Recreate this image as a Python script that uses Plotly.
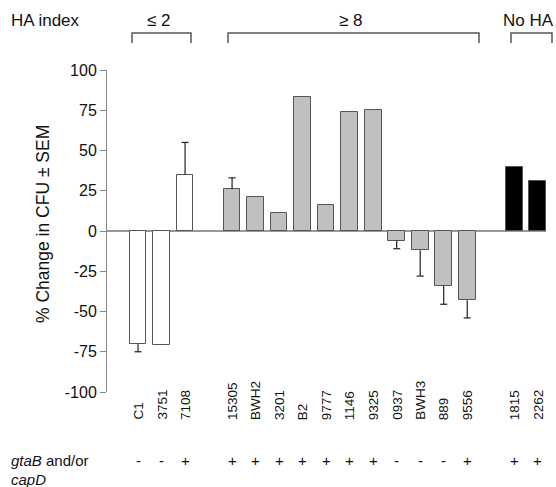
import plotly.graph_objects as go

# ---- data ----
strains = ["C1", "3751", "7108", "15305", "BWH2", "3201", "B2", "9777", "1146",
           "9325", "0937", "BWH3", "889", "9556", "1815", "2262"]
pct_change = [-70, -71, 35, 26, 21, 11, 83, 16, 74, 75, -6, -12, -34, -43, 40, 31]
sem = [5, 0, 20, 7, 0, 0, 0, 0, 0, 0, 5, 16, 11.5, 11, 0, 0]
gtab_capd = ["-", "-", "+", "+", "+", "+", "+", "+", "+", "+", "-", "-", "-", "+", "+", "+"]
group_names = ["\u2264 2", "\u2265 8", "No HA"]
group_sizes = [3, 11, 2]
group_colors = ["#ffffff", "#c0c0c0", "#000000"]
y_ticks = [-100, -75, -50, -25, 0, 25, 50, 75, 100]

FONT = "Liberation Sans, Arial, sans-serif"
W, H = 556, 487
L, R, T, B = 107, 10, 70, 95
PW, PH = W - L - R, H - T - B
CAP = 0.15  # half cap width in slot units


def px_x(px):
    return (px - L) / PW


def px_y(py):
    return (H - B - py) / PH


# positions with one empty slot between groups
xpos, colors = [], []
slot = 0
for gi, n in enumerate(group_sizes):
    for _ in range(n):
        xpos.append(slot)
        colors.append(group_colors[gi])
        slot += 1
    slot += 1

fig = go.Figure()
fig.add_trace(go.Bar(
    x=xpos, y=pct_change, width=0.71,
    marker=dict(color=colors, line=dict(color="#555555", width=1)),
    showlegend=False, hoverinfo="skip",
))

# one-sided error bars (away from zero)
ex, ey = [], []
for x, v, s in zip(xpos, pct_change, sem):
    if s <= 0:
        continue
    end = v + s if v >= 0 else v - s
    ex += [x, x, None, x - CAP, x + CAP, None]
    ey += [v, end, None, end, end, None]
fig.add_trace(go.Scatter(x=ex, y=ey, mode="lines", line=dict(color="#222222", width=1.2),
                         showlegend=False, hoverinfo="skip"))

ann = []
# strain labels
for x, s in zip(xpos, strains):
    ann.append(dict(x=x, xref="x", y=px_y(422), yref="paper", text=s, textangle=-90,
                    xanchor="center", yanchor="bottom", showarrow=False,
                    font=dict(family=FONT, size=13.5, color="#111")))
# +/- row
for x, s in zip(xpos, gtab_capd):
    ann.append(dict(x=x, xref="x", y=px_y(461), yref="paper", text=s,
                    xanchor="center", yanchor="middle", showarrow=False,
                    font=dict(family=FONT, size=15, color="#111")))
ann.append(dict(x=px_x(9), xref="paper", y=px_y(460), yref="paper",
                text="<i>gtaB</i> and/or", xanchor="left", yanchor="middle",
                showarrow=False, font=dict(family=FONT, size=15, color="#111")))
ann.append(dict(x=px_x(9), xref="paper", y=px_y(479), yref="paper",
                text="<i>capD</i>", xanchor="left", yanchor="middle",
                showarrow=False, font=dict(family=FONT, size=15, color="#111")))
# header
ann.append(dict(x=px_x(9), xref="paper", y=px_y(20), yref="paper", text="HA index",
                xanchor="left", yanchor="middle", showarrow=False,
                font=dict(family=FONT, size=17, color="#111")))
brackets = [(132, 191), (228, 479), (511, 552)]
for name, (a, b) in zip(group_names, brackets):
    ann.append(dict(x=px_x((a + b) / 2 - 3), xref="paper", y=px_y(20), yref="paper",
                    text=name, xanchor="center", yanchor="middle", showarrow=False,
                    font=dict(family=FONT, size=17, color="#111")))
shapes = []
for a, b in brackets:
    shapes.append(dict(type="path", xref="paper", yref="paper",
                       path=f"M {px_x(a)},{px_y(43)} L {px_x(a)},{px_y(33)} "
                            f"L {px_x(b)},{px_y(33)} L {px_x(b)},{px_y(43)}",
                       line=dict(color="#555555", width=1.5)))
# y title
ann.append(dict(x=px_x(43), xref="paper", y=px_y(224), yref="paper",
                text="% Change in CFU \u00b1 SEM", textangle=-90,
                xanchor="center", yanchor="middle", showarrow=False,
                font=dict(family=FONT, size=17.5, color="#111")))

fig.update_layout(
    width=W, height=H, margin=dict(l=L, r=R, t=T, b=B),
    plot_bgcolor="white", paper_bgcolor="white",
    annotations=ann, shapes=shapes, bargap=0,
)
fig.update_xaxes(range=[-1.32, 17.35], showticklabels=False, showgrid=False,
                 zeroline=False, showline=False, ticks="")
fig.update_yaxes(range=[-100, 100], tickvals=y_ticks, ticktext=[str(v) for v in y_ticks],
                 showgrid=False,
                 zeroline=True, zerolinecolor="#999999", zerolinewidth=2,
                 showline=True, linecolor="#888888", linewidth=1,
                 ticks="outside", ticklen=6, tickcolor="#888888",
                 tickfont=dict(family=FONT, size=16, color="#111"))

fig.write_html("out.html", config={"displayModeBar": False},
               post_script="document.body.style.margin='0px';")
